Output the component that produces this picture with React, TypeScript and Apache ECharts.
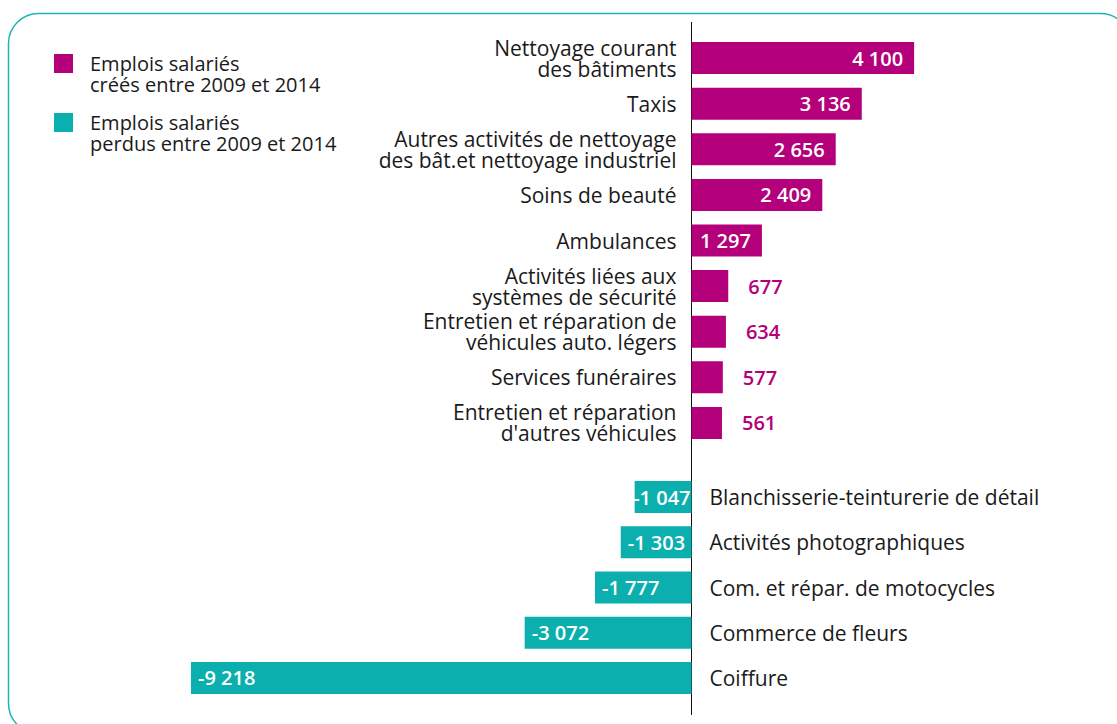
import React, { useEffect, useRef } from "react";
import * as echarts from "echarts";

const gainCategories = [
  "Nettoyage courant\ndes bâtiments",
  "Taxis",
  "Autres activités de nettoyage\ndes bât.et nettoyage industriel",
  "Soins de beauté",
  "Ambulances",
  "Activités liées aux\nsystèmes de sécurité",
  "Entretien et réparation de\nvéhicules auto. légers",
  "Services funéraires",
  "Entretien et réparation\nd'autres véhicules",
];
const gainValues = [4100, 3136, 2656, 2409, 1297, 677, 634, 577, 561];

const lossCategories = [
  "Blanchisserie-teinturerie de détail",
  "Activités photographiques",
  "Com. et répar. de motocycles",
  "Commerce de fleurs",
  "Coiffure",
];
const lossValues = [-1047, -1303, -1777, -3072, -9218];

const legendLabels = [
  "Emplois salariés\ncréés entre 2009 et 2014",
  "Emplois salariés\nperdus entre 2009 et 2014",
];

const MAGENTA = "#b4007a";
const TEAL = "#0bb0ae";
const TEXT = "#1a1a1a";
const FONT = "Open Sans";

const fmt = (v: number) => {
  const s = Math.abs(v).toString();
  const withSpace = s.length > 3 ? s.slice(0, s.length - 3) + " " + s.slice(-3) : s;
  return (v < 0 ? "-" : "") + withSpace;
};

export default function App() {
  const ref = useRef<HTMLDivElement>(null);
  useEffect(() => {
    if (!ref.current) return;
    const chart = echarts.init(ref.current, null, { renderer: "svg" });

    const gainData = gainValues.map((v) => {
      const inside = v >= 1000;
      return {
        value: v,
        label: inside
          ? { position: "insideRight", distance: 11, color: "#ffffff" }
          : { position: "right", distance: 20, color: MAGENTA },
      };
    });
    const lossData = lossValues.map((v) => {
      const tight = Math.abs(v) < 1200;
      return {
        value: v,
        label: tight
          ? { position: "insideRight", distance: 1, color: "#ffffff" }
          : { position: "insideLeft", distance: 7, color: "#ffffff" },
      };
    });

    const baseGraphic: any[] = [
      {
        type: "rect",
        silent: true,
        z: -10,
        shape: { x: 8.5, y: 13.5, width: 1122, height: 720, r: 30 },
        style: { fill: "none", stroke: "#1db4b1", lineWidth: 1.5 },
      },
      {
        type: "rect",
        shape: { x: 54, y: 54, width: 19, height: 19 },
        style: { fill: MAGENTA },
      },
      {
        type: "text",
        x: 90,
        y: 53,
        style: {
          text: legendLabels[0],
          fill: TEXT,
          fontSize: 20,
          fontFamily: FONT,
          lineHeight: 21,
          verticalAlign: "top",
        },
      },
      {
        type: "rect",
        shape: { x: 54, y: 113, width: 19, height: 19 },
        style: { fill: TEAL },
      },
      {
        type: "text",
        x: 90,
        y: 112,
        style: {
          text: legendLabels[1],
          fill: TEXT,
          fontSize: 20,
          fontFamily: FONT,
          lineHeight: 21,
          verticalAlign: "top",
        },
      },
    ];

    const catLabel = {
      fontSize: 21,
      fontFamily: FONT,
      color: TEXT,
      lineHeight: 21,
    };
    const valLabel = {
      show: true,
      fontSize: 20,
      fontFamily: FONT,
      fontWeight: 600,
      overflow: "none",
      formatter: (p: any) => fmt(p.value),
    };

    const option: any = {
      animation: false,
      grid: [
        { left: 691.5, width: 271.5, top: 35.2, height: 410.6, containLabel: false, outerBoundsMode: "none" },
        { left: 148.5, width: 543, top: 474.4, height: 226.2, containLabel: false, outerBoundsMode: "none" },
      ],
      xAxis: [
        { type: "value", gridIndex: 0, min: 0, max: 5000, show: false },
        { type: "value", gridIndex: 1, min: -10000, max: 0, show: false },
      ],
      yAxis: [
        {
          type: "category",
          gridIndex: 0,
          data: gainCategories,
          inverse: true,
          position: "left",
          axisLine: { show: false },
          axisTick: { show: false },
          splitLine: { show: false },
          axisLabel: { ...catLabel, margin: 15, align: "right" },
        },
        {
          type: "category",
          gridIndex: 1,
          data: lossCategories,
          inverse: true,
          position: "right",
          axisLine: { show: false },
          axisTick: { show: false },
          splitLine: { show: false },
          axisLabel: { ...catLabel, margin: 18, align: "left" },
        },
      ],
      series: [
        {
          name: "Emplois salariés créés entre 2009 et 2014",
          type: "bar",
          xAxisIndex: 0,
          yAxisIndex: 0,
          data: gainData,
          barWidth: 32,
          itemStyle: { color: MAGENTA },
          label: valLabel,
        },
        {
          name: "Emplois salariés perdus entre 2009 et 2014",
          type: "bar",
          xAxisIndex: 1,
          yAxisIndex: 1,
          data: lossData,
          barWidth: 32,
          itemStyle: { color: TEAL },
          label: valLabel,
        },
      ],
      graphic: baseGraphic,
    };
    chart.setOption(option);

    const zeroX = chart.convertToPixel({ xAxisIndex: 0 }, 0) as number;
    chart.setOption({
      graphic: [
        ...baseGraphic,
        {
          type: "line",
          silent: true,
          shape: { x1: zeroX, y1: 22, x2: zeroX, y2: 715 },
          style: { stroke: "#111", lineWidth: 1 },
        },
      ],
    });

    return () => chart.dispose();
  }, []);

  return (
    <div
      ref={ref}
      style={{ position: "absolute", left: 0, top: 0, width: 1117, height: 724, background: "#fff" }}
    />
  );
}
